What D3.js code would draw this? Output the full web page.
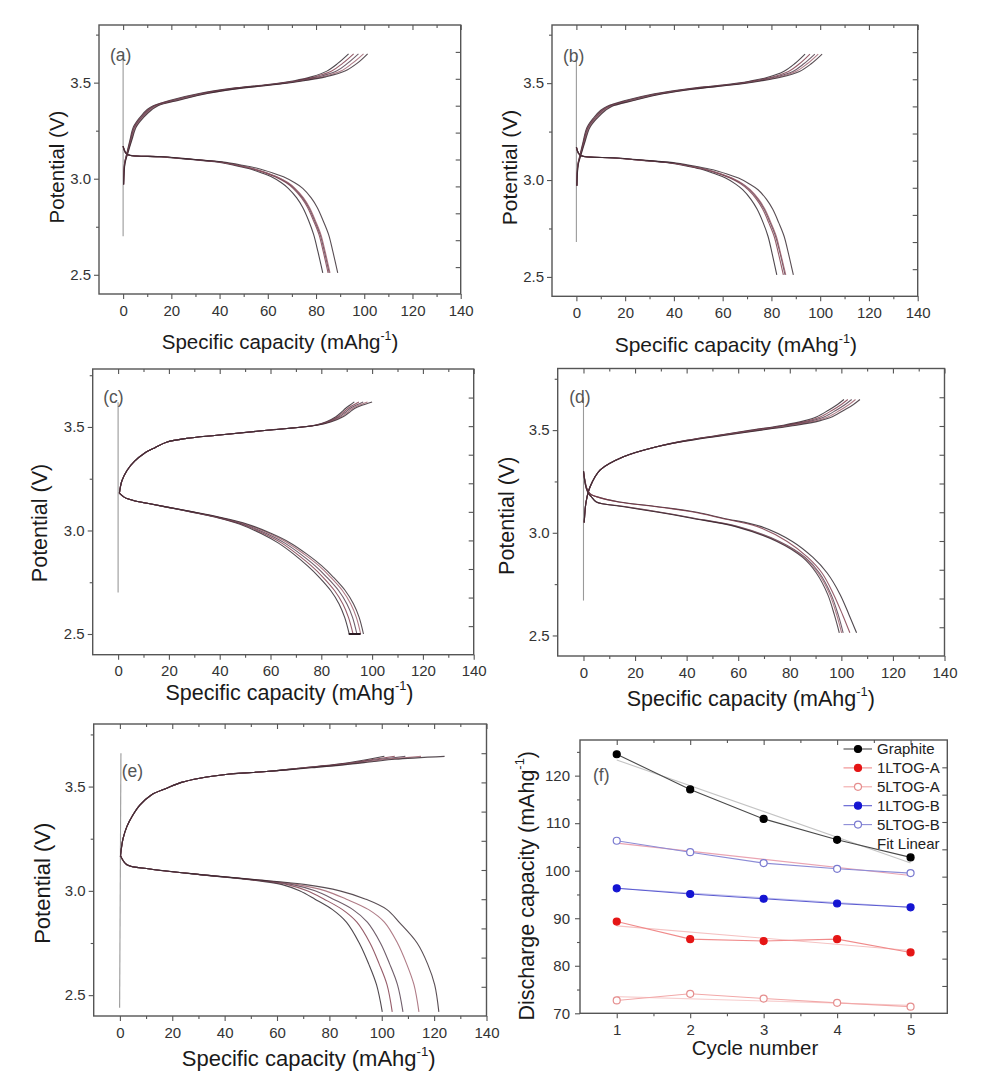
<!DOCTYPE html>
<html><head><meta charset="utf-8">
<script src="https://cdn.jsdelivr.net/npm/d3@7"></script>
<style>body{margin:0;background:#fff} svg{display:block} text{font-family:"Liberation Sans",Arial,sans-serif}</style>
</head><body><svg id="chart" width="985" height="1092"></svg>
<script>
// ---------- tick label arrays ----------
const capTicks = [0, 20, 40, 60, 80, 100, 120, 140];
const capMinorTicks = [10, 30, 50, 70, 90, 110, 130];
const vTicks = [2.5, 3.0, 3.5];
const vMinorTicks = [2.75, 3.25, 3.75];
const cycleTicks = [1, 2, 3, 4, 5];
const cycleMinorTicks = [1.5, 2.5, 3.5, 4.5];
const dcTicks = [70, 80, 90, 100, 110, 120];
const dcMinorTicks = [75, 85, 95, 105, 115, 125];

// ---------- panel (a) ----------
const a_restCap = [0, 0];
const a_restV = [2.70, 3.65];
const a_chargeV = [2.97, 3.08, 3.13, 3.20, 3.27, 3.32, 3.36, 3.38, 3.41, 3.445, 3.47, 3.49, 3.51, 3.53, 3.56, 3.60, 3.65];
const a_chargeCap = [
  [0.2, 0.6, 1.5, 2.8, 4.3, 7.0, 10.0, 12.5, 20, 32, 45, 60, 71, 78, 84.5, 89, 93.5],
  [0.2, 0.6, 1.6, 3.0, 4.6, 7.4, 10.5, 13, 21, 33, 46, 61, 72, 79.5, 86.5, 91, 95.6],
  [0.2, 0.7, 1.7, 3.2, 4.9, 7.8, 11, 13.5, 22, 34, 47, 62, 73, 81, 88.5, 93, 97.6],
  [0.2, 0.7, 1.8, 3.4, 5.2, 8.2, 11.5, 14, 23, 35, 48, 63, 74, 82.5, 90.3, 95, 99.7],
  [0.2, 0.8, 1.9, 3.6, 5.5, 8.6, 12, 14.5, 23.5, 35.5, 48.5, 63.5, 75, 84, 92, 97, 101.4]
];
const a_dischargeV = [3.17, 3.14, 3.125, 3.114, 3.10, 3.088, 3.07, 3.053, 3.03, 3.01, 2.98, 2.95, 2.90, 2.85, 2.78, 2.71, 2.62, 2.51];
const a_dischargeCap = [
  [0, 0.8, 2.0, 15, 28, 38, 46, 52, 57.5, 61.5, 65.5, 68.5, 72, 74.5, 77, 79, 80.8, 82.8],
  [0, 0.8, 2.0, 16, 29, 39, 47, 53, 59, 63, 67.5, 70.5, 74, 76.5, 79, 81.2, 83, 85.0],
  [0, 0.8, 2.0, 16, 29, 39.5, 47.5, 53.5, 59.5, 63.5, 68, 71, 74.5, 77, 79.5, 81.7, 83.5, 85.5],
  [0, 0.8, 2.0, 16, 29.5, 39.5, 47.8, 53.8, 59.8, 63.8, 68.3, 71.3, 74.8, 77.3, 79.8, 82, 83.8, 85.8],
  [0, 0.8, 2.0, 17, 30, 41, 49.5, 56, 62, 66.5, 71, 74.5, 78, 80.5, 83, 85.2, 87, 89]
];

// ---------- panel (b) ----------
const b_restCap = [0, 0];
const b_restV = [2.68, 3.64];
const b_chargeV = [2.97, 3.08, 3.13, 3.20, 3.27, 3.32, 3.36, 3.38, 3.41, 3.445, 3.47, 3.49, 3.51, 3.53, 3.56, 3.60, 3.65];
const b_chargeCap = [
  [0.2, 0.6, 1.5, 2.8, 4.3, 7.0, 10.0, 12.5, 20, 32, 45, 60, 71, 78.5, 85, 89.5, 93.8],
  [0.2, 0.6, 1.6, 3.0, 4.6, 7.4, 10.5, 13, 21, 33, 46, 61, 72, 80, 87, 91.5, 95.8],
  [0.2, 0.7, 1.7, 3.2, 4.9, 7.8, 11, 13.5, 22, 34, 47, 62, 73, 81.3, 88.8, 93.3, 97.8],
  [0.2, 0.7, 1.8, 3.4, 5.2, 8.2, 11.5, 14, 23, 35, 48, 63, 74, 82.5, 90, 94.7, 99.2],
  [0.2, 0.8, 1.9, 3.6, 5.5, 8.6, 12, 14.5, 23.5, 35.5, 48.5, 63.5, 75, 83.8, 91.5, 96.3, 100.8]
];
const b_dischargeV = [3.17, 3.14, 3.125, 3.114, 3.10, 3.088, 3.07, 3.053, 3.03, 3.01, 2.98, 2.95, 2.90, 2.85, 2.78, 2.71, 2.62, 2.51];
const b_dischargeCap = [
  [0, 0.8, 2.0, 15, 28, 38, 46, 52, 57.3, 61.2, 65.2, 68.2, 71.6, 74.1, 76.6, 78.6, 80.3, 82.2],
  [0, 0.8, 2.0, 16, 29, 39, 47, 53, 59, 63, 67.4, 70.4, 73.9, 76.4, 78.9, 81.1, 82.9, 84.9],
  [0, 0.8, 2.0, 16, 29, 39.5, 47.5, 53.5, 59.5, 63.5, 68, 71, 74.5, 77, 79.5, 81.7, 83.6, 85.6],
  [0, 0.8, 2.0, 16, 29.5, 39.5, 47.8, 53.8, 59.8, 63.8, 68.3, 71.3, 74.8, 77.3, 79.8, 82, 83.8, 85.9],
  [0, 0.8, 2.0, 17, 30, 41, 49.5, 56, 62, 66.5, 71, 74.5, 78, 80.5, 83, 85.2, 87, 89]
];

// ---------- panel (c) ----------
const c_restCap = [0, 0];
const c_restV = [2.70, 3.62];
const c_chargeV = [3.18, 3.24, 3.29, 3.335, 3.371, 3.40, 3.427, 3.445, 3.46, 3.484, 3.508, 3.525, 3.548, 3.57, 3.589, 3.605, 3.621];
const c_chargeCap = [
  [0.5, 1.5, 3.5, 6.5, 10.1, 14.5, 19.3, 27, 38.9, 58.6, 77.5, 82.0, 85.6, 87.8, 89.5, 91.2, 93.0],
  [0.5, 1.5, 3.5, 6.5, 10.1, 14.5, 19.3, 27, 38.9, 58.6, 77.7, 82.5, 86.3, 88.6, 90.4, 92.4, 94.8],
  [0.5, 1.5, 3.5, 6.5, 10.1, 14.5, 19.3, 27, 38.9, 58.6, 77.9, 83.0, 87.0, 89.4, 91.3, 93.6, 96.5],
  [0.5, 1.5, 3.5, 6.5, 10.1, 14.5, 19.3, 27, 38.9, 58.6, 78.1, 83.5, 87.7, 90.2, 92.2, 94.8, 98.2],
  [0.5, 1.5, 3.5, 6.5, 10.1, 14.5, 19.3, 27, 38.9, 58.6, 78.3, 84.0, 88.4, 91.0, 93.1, 96.0, 100.0]
];
const c_dischargeV = [3.18, 3.16, 3.145, 3.13, 3.113, 3.09, 3.065, 3.03, 2.984, 2.94, 2.887, 2.83, 2.774, 2.71, 2.645, 2.58, 2.50];
const c_dischargeCap = [
  [0.5, 2.5, 6, 12, 19.0, 28.5, 38.0, 48.0, 56.5, 63.0, 69.0, 74.5, 79.2, 83.7, 87.0, 89.2, 91.0],
  [0.5, 2.5, 6, 12, 19.2, 28.8, 38.5, 48.8, 57.5, 64.3, 70.3, 76.0, 80.7, 85.2, 88.5, 90.7, 92.5],
  [0.5, 2.5, 6, 12, 19.3, 29.0, 38.9, 49.5, 58.6, 65.5, 71.7, 77.5, 82.2, 86.8, 90.1, 92.3, 94.0],
  [0.5, 2.5, 6, 12, 19.4, 29.3, 39.3, 50.3, 59.7, 66.8, 73.1, 79.0, 83.7, 88.3, 91.6, 93.8, 95.5],
  [0.5, 2.5, 6, 12, 19.5, 29.5, 39.6, 51.0, 60.6, 67.8, 74.2, 80.1, 84.8, 89.4, 92.7, 94.9, 96.6]
];
const c_cutoffCap = [90.8, 95.5];
const c_cutoffV = [2.50, 2.50];

// ---------- panel (d) ----------
const d_restCap = [0, 0];
const d_restV = [2.67, 3.66];
const d_chargeV = [3.05, 3.15, 3.225, 3.306, 3.37, 3.419, 3.45, 3.476, 3.50, 3.524, 3.545, 3.565, 3.597, 3.625, 3.649];
const d_chargeCap = [
  [0.3, 1.0, 2.6, 6.5, 15.5, 28.4, 40.0, 53.0, 65.0, 77.5, 85.5, 90.5, 95.0, 98.5, 101.0],
  [0.3, 1.0, 2.6, 6.5, 15.5, 28.4, 40.0, 53.5, 66.0, 78.8, 87.0, 92.0, 96.5, 100.0, 102.5],
  [0.3, 1.0, 2.6, 6.5, 15.5, 28.4, 40.5, 54.2, 67.0, 80.0, 88.5, 93.5, 98.0, 101.5, 104.0],
  [0.3, 1.0, 2.6, 6.5, 15.5, 28.4, 41.0, 55.0, 68.0, 81.3, 90.0, 95.0, 99.5, 103.0, 105.5],
  [0.3, 1.0, 2.6, 6.5, 15.5, 28.4, 41.5, 55.8, 69.0, 82.7, 91.5, 96.5, 101.0, 104.7, 107.2]
];
const d_dischargeV = [3.30, 3.22, 3.19, 3.176, 3.15, 3.128, 3.10, 3.071, 3.03, 2.958, 2.88, 2.804, 2.70, 2.60, 2.513];
const d_dischargeCap = [
  [0, 1.2, 2.5, 5, 14.0, 28.4, 44.0, 54.2, 69.0, 81.0, 89.0, 94.5, 99.5, 103.0, 105.9],
  [0, 1.2, 2.5, 5, 13.5, 27.5, 43.0, 53.5, 67.5, 79.0, 87.0, 92.5, 97.0, 100.5, 103.3],
  [0, 1.0, 2.0, 3, 5.0, 16.0, 30.0, 43.0, 60.0, 76.0, 86.0, 91.5, 96.0, 98.8, 100.7],
  [0, 1.0, 2.0, 3, 5.0, 15.5, 29.5, 42.5, 59.5, 75.5, 85.5, 91.0, 95.5, 98.2, 100.1],
  [0, 1.0, 2.0, 3, 5.0, 15.0, 29.0, 42.0, 59.0, 75.0, 85.0, 90.3, 94.7, 97.3, 99.2]
];

// ---------- panel (e) ----------
const e_restCap = [-0.1, 0.4];
const e_restV = [2.44, 3.66];
const e_chargeV = [3.165, 3.25, 3.309, 3.36, 3.412, 3.46, 3.492, 3.52, 3.54, 3.56, 3.572, 3.59, 3.604, 3.62, 3.631, 3.645];
const e_chargeCap = [
  [0.2, 1.2, 2.7, 4.8, 7.7, 12, 17.9, 23.5, 30.5, 42, 55.9, 70.0, 81.2, 90.0, 95.0, 101.0],
  [0.2, 1.2, 2.7, 4.8, 7.7, 12, 17.9, 23.5, 30.5, 42, 55.9, 70.5, 82.0, 91.5, 97.0, 105.0],
  [0.2, 1.2, 2.7, 4.8, 7.7, 12, 17.9, 23.5, 30.5, 42, 55.9, 71.0, 83.0, 93.0, 99.5, 109.0],
  [0.2, 1.2, 2.7, 4.8, 7.7, 12, 17.9, 23.5, 30.5, 42, 55.9, 72.0, 84.0, 95.0, 102.0, 115.0],
  [0.2, 1.2, 2.7, 4.8, 7.7, 12, 17.9, 23.5, 30.5, 42, 55.9, 73.0, 85.5, 97.0, 105.0, 124.0]
];
const e_dischargeV = [3.17, 3.125, 3.105, 3.078, 3.054, 3.03, 3.0, 2.96, 2.91, 2.85, 2.75, 2.65, 2.55, 2.42];
const e_dischargeCap = [
  [0.2, 2.7, 11.5, 30.5, 49.5, 62.0, 68.6, 74.5, 81.2, 86.5, 91.4, 95.0, 98.0, 100.2],
  [0.2, 2.7, 11.5, 30.5, 50.0, 64.0, 71.5, 78.0, 85.0, 90.5, 95.5, 99.0, 102.0, 104.0],
  [0.2, 2.7, 11.5, 30.5, 50.5, 66.0, 74.5, 81.5, 89.0, 94.5, 99.5, 103.0, 106.0, 108.1],
  [0.2, 2.7, 11.5, 31.0, 51.0, 68.0, 78.5, 86.5, 95.0, 101.0, 106.0, 109.5, 112.3, 114.2],
  [0.2, 2.7, 11.5, 31.0, 51.5, 71.0, 84.0, 93.9, 102.0, 106.6, 113.5, 117.5, 120.2, 121.8]
];

// ---------- panel (f) ----------
const cycles = [1, 2, 3, 4, 5];
const seriesNames = ["Graphite", "1LTOG-A", "5LTOG-A", "1LTOG-B", "5LTOG-B"];
const graphite = [124.5, 117.1, 110.9, 106.5, 102.8];
const ltog1A = [89.3, 85.6, 85.2, 85.6, 82.8];
const ltog5A = [72.7, 74.1, 73.1, 72.2, 71.4];
const ltog1B = [96.3, 95.1, 94.1, 93.1, 92.3];
const ltog5B = [106.3, 103.9, 101.6, 100.4, 99.5];
// linear-fit lines read at cycle 1 and cycle 5
const fitCycles = [1, 5];
const graphiteFit = [123.3, 101.6];
const ltog1AFit = [88.4, 83.2];
const ltog5AFit = [73.5, 71.7];
const ltog1BFit = [96.3, 92.3];
const ltog5BFit = [105.8, 99.0];

// ---------- rendering ----------
const svg = d3.select("#chart");
const FONT = '"Liberation Sans", Arial, sans-serif';
const cycleColors = ["#231a22", "#7a3344", "#4b3545", "#9b5a68", "#2e2028"];

const panels = [
  {label: "(a)", box: {l: 99, r: 460.7, t: 25, b: 294}, yDom: [2.4, 3.8], lab: [110, 61],
   xt: [280, 349], yt: [63.5, 167], fs: 20.5,
   rest: [a_restCap, a_restV], cV: a_chargeV, cC: a_chargeCap, dV: a_dischargeV, dC: a_dischargeCap},
  {label: "(b)", box: {l: 552, r: 917.7, t: 25, b: 296.3}, yDom: [2.4, 3.8], lab: [563, 61.5],
   xt: [735.8, 352], yt: [517, 167.5], fs: 21,
   rest: [b_restCap, b_restV], cV: b_chargeV, cC: b_chargeCap, dV: b_dischargeV, dC: b_dischargeCap},
  {label: "(c)", box: {l: 92.7, r: 473.7, t: 369, b: 654.7}, yDom: [2.4, 3.78], lab: [103.3, 403],
   xt: [289.5, 700], yt: [47, 523], fs: 21.5,
   rest: [c_restCap, c_restV], cV: c_chargeV, cC: c_chargeCap, dV: c_dischargeV, dC: c_dischargeCap,
   cutoff: [c_cutoffCap, c_cutoffV]},
  {label: "(d)", box: {l: 557.7, r: 944.5, t: 368.5, b: 656}, yDom: [2.4, 3.8], lab: [569.3, 403],
   xt: [750.8, 705.5], yt: [513.5, 515.8], fs: 21.5,
   rest: [d_restCap, d_restV], cV: d_chargeV, cC: d_chargeCap, dV: d_dischargeV, dC: d_dischargeCap},
  {label: "(e)", box: {l: 93.7, r: 486.5, t: 724, b: 1016}, yDom: [2.4, 3.8], lab: [121.7, 777],
   xt: [308.7, 1066], yt: [50, 883.3], fs: 22,
   rest: [e_restCap, e_restV], cV: e_chargeV, cC: e_chargeCap, dV: e_dischargeV, dC: e_dischargeCap}
];

function styleAxis(g, size) {
  g.select(".domain").remove();
  g.selectAll(".tick line").attr("stroke", "#555").attr("stroke-width", 1.1);
  g.selectAll(".tick text").attr("fill", "#333").attr("font-size", size).attr("font-family", FONT);
}

function drawAxes(g, x, y, box, xMaj, xMin, yMaj, yMin, fx, fy, padX, padY) {
  const bm = g.append("g").attr("transform", `translate(0,${box.b})`)
    .call(d3.axisBottom(x).tickValues(xMaj).tickSize(5).tickPadding(padX).tickFormat(fx));
  styleAxis(bm, 15);
  const bn = g.append("g").attr("transform", `translate(0,${box.b})`)
    .call(d3.axisBottom(x).tickValues(xMin).tickSize(3).tickFormat(""));
  styleAxis(bn, 15);
  const tm = g.append("g").attr("transform", `translate(0,${box.t})`)
    .call(d3.axisBottom(x).tickValues(xMaj).tickSize(5).tickFormat(""));
  styleAxis(tm, 15);
  const tn = g.append("g").attr("transform", `translate(0,${box.t})`)
    .call(d3.axisBottom(x).tickValues(xMin).tickSize(3).tickFormat(""));
  styleAxis(tn, 15);
  const lm = g.append("g").attr("transform", `translate(${box.l},0)`)
    .call(d3.axisLeft(y).tickValues(yMaj).tickSize(5).tickPadding(padY).tickFormat(fy));
  styleAxis(lm, 15);
  const ln = g.append("g").attr("transform", `translate(${box.l},0)`)
    .call(d3.axisLeft(y).tickValues(yMin).tickSize(3).tickFormat(""));
  styleAxis(ln, 15);
  // right axis: ten equal divisions, ticks pointing inward
  const rs = d3.scaleLinear().domain([0, 10]).range([box.b, box.t]);
  const rg = g.append("g").attr("transform", `translate(${box.r},0)`)
    .call(d3.axisLeft(rs).tickValues([1, 2, 3, 4, 5, 6, 7, 8, 9]).tickSize(5).tickFormat(""));
  styleAxis(rg, 15);
  g.append("rect").attr("x", box.l).attr("y", box.t)
    .attr("width", box.r - box.l).attr("height", box.b - box.t)
    .attr("fill", "none").attr("stroke", "#555").attr("stroke-width", 1.4);
}

function unitTitle(g, main, xPos, yPos, fs, rotate) {
  const t = g.append("text").attr("font-family", FONT).attr("font-size", fs)
    .attr("fill", "#1a1a1a").attr("text-anchor", "middle");
  if (rotate) t.attr("transform", `translate(${xPos},${yPos}) rotate(-90)`);
  else t.attr("x", xPos).attr("y", yPos);
  t.append("tspan").text(main);
  t.append("tspan").attr("font-size", fs * 0.6).attr("dy", -fs * 0.45).text("-1");
  t.append("tspan").attr("dy", fs * 0.45).text(")");
  return t;
}

panels.forEach(p => {
  const box = p.box;
  const g = svg.append("g");
  const x = d3.scaleLinear().domain([-10, 140]).range([box.l, box.r]);
  const y = d3.scaleLinear().domain(p.yDom).range([box.b, box.t]);
  const line = d3.line().x(d => x(d[0])).y(d => y(d[1])).curve(d3.curveCatmullRom.alpha(0.5));

  // rest (open-circuit) line
  g.append("path").datum(p.rest[0].map((c, i) => [c, p.rest[1][i]]))
    .attr("d", d3.line().x(d => x(d[0])).y(d => y(d[1])))
    .attr("stroke", "#9a9a9a").attr("stroke-width", 1.1).attr("fill", "none");

  p.cC.forEach((caps, i) => {
    g.append("path").datum(caps.map((c, j) => [c, p.cV[j]])).attr("d", line)
      .attr("fill", "none").attr("stroke", cycleColors[i]).attr("stroke-width", 1.1).attr("stroke-opacity", 0.8);
  });
  p.dC.forEach((caps, i) => {
    g.append("path").datum(caps.map((c, j) => [c, p.dV[j]])).attr("d", line)
      .attr("fill", "none").attr("stroke", cycleColors[i]).attr("stroke-width", 1.1).attr("stroke-opacity", 0.8);
  });
  if (p.cutoff) {
    g.append("path").datum(p.cutoff[0].map((c, i) => [c, p.cutoff[1][i]]))
      .attr("d", d3.line().x(d => x(d[0])).y(d => y(d[1])))
      .attr("stroke", "#2a1a22").attr("stroke-width", 2).attr("fill", "none");
  }

  drawAxes(g, x, y, box, capTicks, capMinorTicks, vTicks, vMinorTicks, d3.format("d"), d3.format(".1f"), 6, 3);

  g.append("text").attr("x", p.lab[0]).attr("y", p.lab[1]).attr("font-family", FONT)
    .attr("font-size", 17.5).attr("fill", "#555").text(p.label);
  unitTitle(g, "Specific capacity (mAhg", p.xt[0], p.xt[1], p.fs, false);
  g.append("text").attr("transform", `translate(${p.yt[0]},${p.yt[1]}) rotate(-90)`)
    .attr("text-anchor", "middle").attr("font-family", FONT).attr("font-size", p.fs)
    .attr("fill", "#1a1a1a").text("Potential (V)");
});

// ---------- panel (f) ----------
(function () {
  const box = {l: 580, r: 947.3, t: 740, b: 1013.3};
  const g = svg.append("g");
  const x = d3.scaleLinear().domain([0.5, 5.5]).range([box.l, box.r]);
  const y = d3.scaleLinear().domain([70, 127.5]).range([box.b, box.t]);

  const series = [
    {name: seriesNames[0], vals: graphite, fit: graphiteFit, line: "#4a4a4a", fitc: "#c4c4c4", fill: "#000", stroke: "#000"},
    {name: seriesNames[1], vals: ltog1A, fit: ltog1AFit, line: "#f08a8a", fitc: "#f5c2c2", fill: "#e51515", stroke: "#e51515"},
    {name: seriesNames[2], vals: ltog5A, fit: ltog5AFit, line: "#f2a8a8", fitc: "#f7cfcf", fill: "#fff", stroke: "#e58e8e"},
    {name: seriesNames[3], vals: ltog1B, fit: ltog1BFit, line: "#5a5ad0", fitc: "#c2c2ee", fill: "#1414d2", stroke: "#1414d2"},
    {name: seriesNames[4], vals: ltog5B, fit: ltog5BFit, line: "#8c8cd6", fitc: "#eaa4b2", fill: "#fff", stroke: "#7a7ad0"}
  ];
  const ln = d3.line().x(d => x(d[0])).y(d => y(d[1]));

  series.forEach(s => {
    g.append("path").datum(fitCycles.map((c, i) => [c, s.fit[i]])).attr("d", ln)
      .attr("fill", "none").attr("stroke", s.fitc).attr("stroke-width", 1.1);
  });
  series.forEach(s => {
    g.append("path").datum(cycles.map((c, i) => [c, s.vals[i]])).attr("d", ln)
      .attr("fill", "none").attr("stroke", s.line).attr("stroke-width", 1.1);
    g.selectAll(null).data(cycles.map((c, i) => [c, s.vals[i]])).enter().append("circle")
      .attr("cx", d => x(d[0])).attr("cy", d => y(d[1])).attr("r", 3.5)
      .attr("fill", s.fill).attr("stroke", s.stroke).attr("stroke-width", 1.2);
  });

  drawAxes(g, x, y, box, cycleTicks, cycleMinorTicks, dcTicks, dcMinorTicks, d3.format("d"), d3.format("d"), 6, 5);

  // legend
  const lg = g.append("g");
  const entries = seriesNames.concat(["Fit Linear"]);
  entries.forEach((nm, i) => {
    const yy = 749 + i * 18.9;
    const s = series[i];
    if (s) {
      lg.append("line").attr("x1", 843.5).attr("x2", 872).attr("y1", yy).attr("y2", yy)
        .attr("stroke", s.line).attr("stroke-width", 1.1);
      lg.append("circle").attr("cx", 858).attr("cy", yy).attr("r", 3.5)
        .attr("fill", s.fill).attr("stroke", s.stroke).attr("stroke-width", 1.2);
    }
    lg.append("text").attr("x", 877).attr("y", yy + 5.3).attr("font-family", FONT)
      .attr("font-size", 15).attr("fill", "#222").text(nm);
  });

  g.append("text").attr("x", 593).attr("y", 781).attr("font-family", FONT)
    .attr("font-size", 17.5).attr("fill", "#555").text("(f)");
  g.append("text").attr("x", 755).attr("y", 1055).attr("text-anchor", "middle")
    .attr("font-family", FONT).attr("font-size", 20.5).attr("fill", "#1a1a1a").text("Cycle number");
  unitTitle(g, "Discharge capacity (mAhg", 533.5, 885.8, 21.5, true);
})();
</script></body></html>
